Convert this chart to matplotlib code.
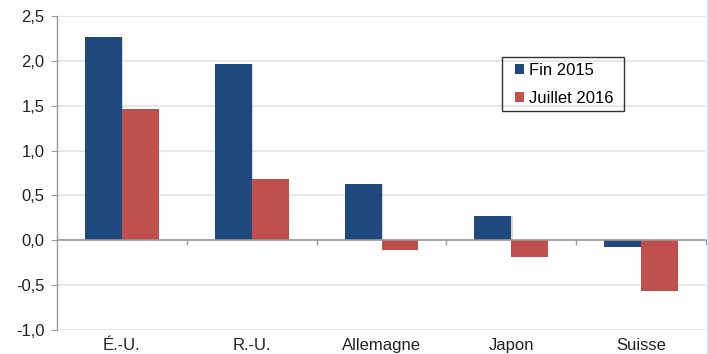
import matplotlib.pyplot as plt
import numpy as np
from matplotlib.lines import Line2D
from matplotlib.patches import Rectangle

plt.rcParams['font.family'] = ['Liberation Sans', 'DejaVu Sans']

pays = ['É.-U.', 'R.-U.', 'Allemagne', 'Japon', 'Suisse']
fin_2015 = [2.27, 1.96, 0.63, 0.27, -0.07]
juillet_2016 = [1.46, 0.68, -0.11, -0.19, -0.56]
y_ticks = [-1.0, -0.5, 0.0, 0.5, 1.0, 1.5, 2.0, 2.5]

BLEU = '#1F497D'
ROUGE = '#C0504D'
FS = 12
W, H = 709, 354

fig = plt.figure(figsize=(7.09, 3.54), dpi=100)
ax = fig.add_axes([57 / W, 1 - 330 / H, 649 / W, 314 / H])

x = np.arange(len(pays))
w = 0.285
# ombre legere sous les barres
ax.bar(x - w / 2 + 0.01, fin_2015, w, color='#b0b0b0', alpha=0.5, zorder=2)
ax.bar(x - w / 2, fin_2015, w, color=BLEU, label='Fin 2015', zorder=3)
ax.bar(x + w / 2, juillet_2016, w, color=ROUGE, label='Juillet 2016', zorder=3)

ax.set_xlim(-0.5, len(pays) - 0.5)
ax.set_ylim(-1.0, 2.5)
ax.set_yticks(y_ticks)
ax.set_yticklabels([f'{v:.1f}'.replace('.', ',') for v in y_ticks], fontsize=FS,
                   color='#222222')
ax.yaxis.grid(True, color='#e3e3e3', linewidth=1.2, zorder=0)
ax.set_axisbelow(True)

ax.set_xticks(x)
ax.set_xticklabels(pays, fontsize=FS, color='#222222')
ax.tick_params(axis='x', length=0, pad=6)
ax.tick_params(axis='y', length=4, color='#999999', pad=5)

for s in ['top', 'right', 'bottom']:
    ax.spines[s].set_visible(False)
ax.spines['left'].set_color('#999999')
ax.spines['left'].set_linewidth(1.0)

# axe horizontal a zero avec graduations entre categories
ax.axhline(0, color='#999999', linewidth=1.2, zorder=4)
for b in np.arange(0.5, len(pays), 1.0):
    ax.plot([b, b], [0, -0.04], color='#999999', linewidth=1.0, zorder=4,
            clip_on=False)

# legende sans cadre, cadre dessine a part (marges horizontales plus larges)
leg = ax.legend(loc='upper left', bbox_to_anchor=(515 / W, 1 - 63 / H),
                bbox_transform=fig.transFigure, frameon=False, fontsize=FS,
                handlelength=0.55, handleheight=0.55, labelspacing=0.77,
                borderpad=0, handletextpad=0.3, borderaxespad=0)
fig.add_artist(Rectangle((502 / W, 1 - 111 / H), 122 / W, 54 / H,
                         transform=fig.transFigure, fill=False,
                         edgecolor='#333333', linewidth=1.0))

# bordure bleu clair a droite
fig.add_artist(Line2D([707.5 / W, 707.5 / W], [0, 1], color='#c5def0',
                      linewidth=2, transform=fig.transFigure))

fig.savefig('out.png', dpi=100)
